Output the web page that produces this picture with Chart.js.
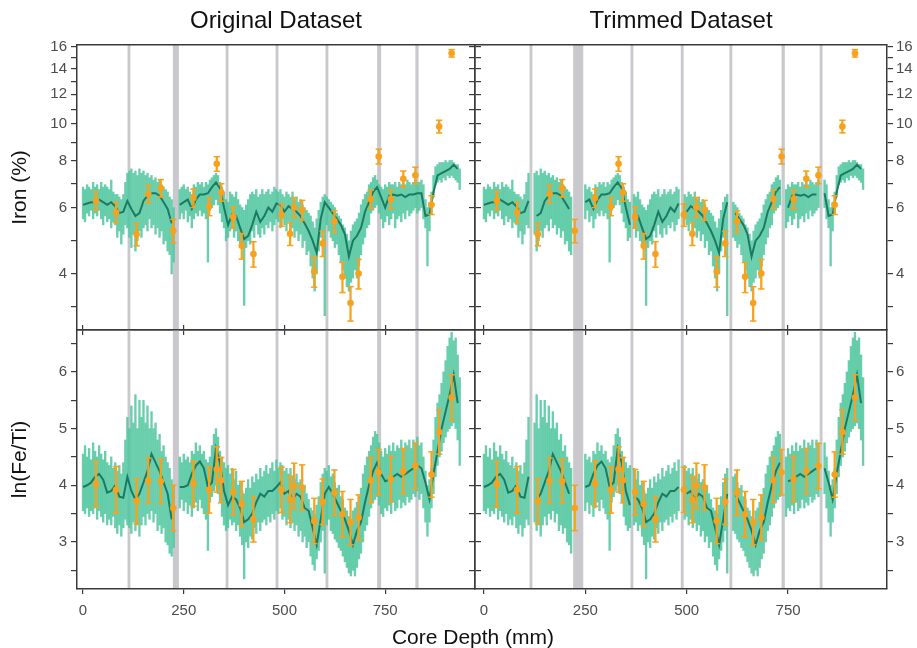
<!DOCTYPE html>
<html>
<head>
<meta charset="utf-8">
<script src="https://cdn.jsdelivr.net/npm/chart.js@4.4.0/dist/chart.umd.min.js"></script>
<style>
  html, body { margin: 0; padding: 0; background: #fff; }
  #wrap { position: relative; width: 917px; height: 648px; overflow: hidden; }
  #wrap canvas { position: absolute; left: 0; top: 0; }
  #xlabel { position: absolute; left: 323px; width: 300px; top: 625px; text-align: center;
            font: 21px 'Liberation Sans', Arial, sans-serif; color: #111; }
</style>
</head>
<body>
<div id="wrap">
  <canvas id="tl" width="917" height="648"></canvas>
  <canvas id="tr" width="917" height="648"></canvas>
  <canvas id="bl" width="917" height="648"></canvas>
  <canvas id="br" width="917" height="648"></canvas>
  <div id="xlabel">Core Depth (mm)</div>
</div>
<script>
// ticks
const depthTicks = [0, 250, 500, 750];
const ironTicks = [3.27, 4, 4.9, 6, 6.93, 8, 8.94, 10, 10.95, 12, 12.96, 14, 14.97, 16];
const ironLabels = [4, 6, 8, 10, 12, 14, 16];
const lnTicks = [2.5, 3, 3.5, 4, 4.5, 5, 5.5, 6, 6.5];
const lnLabels = [3, 4, 5, 6];

// grey depth intervals (mm)
const originalBands = [[110.5, 117.5], [223, 238], [354, 361], [478, 485], [602, 609], [730, 740], [825, 833]];
const trimmedBands = [[112.5, 119.5], [220, 245], [361.5, 368.5], [485.5, 492.5], [605.5, 612.5], [734, 742], [828, 835]];

// XRF scan, every 5 mm from 0 to 935 (low / high of the light band)
const bandDepth = [];
for (let d = 0; d <= 935; d += 5) bandDepth.push(d);

const ironLo = [
  5.6,5.5,5.8,5.7,5.9,5.6,5.8,5.7,5.9,5.6,
  5.4,5.7,5.5,5.6,5.3,5.5,5.4,5.0,5.2,4.8,
  5.1,5.4,5.3,5.0,4.7,5.1,4.6,4.9,5.2,5.0,
  5.3,5.4,5.2,5.6,5.3,5.4,5.1,5.3,5.0,5.2,
  4.8,4.9,4.6,4.5,4.0,4.3,null,null,5.6,5.8,
  5.6,5.9,5.5,5.7,5.3,5.6,5.8,5.7,5.9,5.7,
  5.8,5.6,4.3,5.9,6.0,6.1,6.3,6.1,5.8,5.5,
  5.3,4.9,5.0,5.2,5.3,5.0,5.2,4.9,4.8,4.7,
  3.3,4.7,4.9,4.8,5.2,5.0,5.4,5.1,5.0,5.3,
  5.1,5.4,5.3,5.5,5.2,5.4,5.6,5.5,5.3,5.6,
  5.4,5.2,5.5,5.1,5.3,5.0,5.2,4.9,5.1,4.7,
  4.9,4.5,4.6,4.2,3.9,3.6,4.0,4.6,5.0,5.2,
  3.1,5.4,5.2,5.0,4.9,4.7,4.8,4.5,4.3,4.1,
  3.9,3.7,3.6,3.8,3.9,4.1,3.9,4.2,4.5,4.8,
  5.0,5.3,5.4,5.8,5.9,6.0,6.1,5.8,5.6,5.3,
  5.5,5.7,5.4,5.6,5.8,5.3,5.6,5.7,5.5,5.8,
  5.6,5.9,5.7,5.8,5.9,6.0,5.8,5.9,6.0,5.6,
  5.3,4.2,5.2,5.8,6.4,6.9,7.0,7.1,7.0,7.2,
  7.1,7.3,7.2,7.3,7.2,7.1,7.0,6.7
];
const ironHi = [
  6.8,6.7,6.9,6.8,6.7,7.0,6.8,6.9,6.7,7.0,
  6.8,6.9,6.8,6.7,7.1,6.6,6.5,6.5,6.4,6.3,
  6.5,7.0,7.4,7.5,7.6,7.4,7.5,7.3,7.6,7.4,
  7.5,7.3,7.4,7.2,7.3,7.1,7.2,7.0,7.1,6.9,
  6.8,6.7,6.6,6.4,6.3,6.0,null,null,6.7,6.8,
  6.9,6.7,6.8,6.6,6.5,6.9,6.8,7.0,6.9,7.0,
  6.8,7.0,6.9,7.1,7.2,7.3,7.4,7.3,7.0,6.8,
  6.6,6.3,6.2,6.6,6.5,6.4,6.6,6.3,6.1,6.0,
  5.9,6.1,6.3,6.5,6.6,6.5,6.7,6.4,6.5,6.7,
  6.5,6.6,6.7,6.5,6.6,6.8,6.7,6.6,6.7,6.5,
  6.4,6.6,6.5,6.4,6.6,6.3,6.4,6.2,6.3,6.1,
  6.0,5.9,5.8,5.7,5.5,5.3,5.6,5.9,6.2,6.4,
  6.5,6.4,6.3,6.2,6.1,6.0,5.8,5.7,5.6,5.4,
  5.3,5.1,4.9,5.2,5.4,5.5,5.6,5.8,6.1,6.3,
  6.5,6.6,6.9,7.0,7.2,7.3,7.1,6.9,6.8,6.7,
  6.9,6.8,7.0,6.9,6.9,7.0,6.8,7.0,6.9,7.0,
  6.9,7.1,7.0,6.9,7.0,7.1,7.0,7.0,7.1,6.9,
  6.3,6.0,6.2,6.6,7.3,7.7,7.8,7.9,7.9,7.9,
  8.0,7.9,8.0,8.0,7.9,7.8,7.8,7.6
];
const lnLo = [
  3.55,3.5,3.6,3.45,3.55,3.5,3.6,3.4,3.55,3.45,
  3.35,3.5,3.3,3.4,3.3,3.45,3.25,3.15,3.3,3.1,
  3.25,3.4,3.3,3.25,3.15,3.35,3.2,3.3,3.1,3.3,
  3.45,3.3,3.5,3.4,3.55,3.35,3.5,3.2,3.3,3.15,
  3.25,3.0,2.95,2.8,2.75,2.9,null,null,3.6,3.75,
  3.55,3.7,3.5,3.65,3.45,3.6,3.7,3.55,3.75,3.6,
  3.5,3.4,2.85,3.7,3.8,3.9,4.0,3.85,3.7,3.45,
  3.3,3.2,3.25,3.4,3.3,3.35,3.2,3.3,3.1,2.95,
  2.35,3.0,2.9,3.1,3.05,3.25,3.15,3.35,3.2,3.35,
  3.4,3.3,3.45,3.35,3.5,3.4,3.55,3.5,3.6,3.4,
  3.45,3.3,3.4,3.25,3.35,3.2,3.3,3.1,3.2,3.0,
  3.1,2.9,3.0,2.75,2.6,2.5,2.7,2.85,3.0,3.2,
  2.45,3.3,3.4,3.2,3.15,3.05,3.0,2.9,2.85,2.75,
  2.65,2.55,2.45,2.4,2.5,2.4,2.55,2.7,2.8,3.0,
  3.2,3.3,3.45,3.6,3.7,3.75,3.8,3.65,3.5,3.45,
  3.6,3.55,3.65,3.5,3.7,3.55,3.6,3.75,3.6,3.7,
  3.65,3.8,3.7,3.75,3.85,3.8,3.9,3.75,3.85,3.6,
  3.35,3.1,3.35,3.6,3.85,4.15,4.35,4.5,4.6,4.75,
  4.85,4.95,5.0,5.05,5.1,5.0,4.8,4.35
];
const lnHi = [
  4.55,4.7,4.5,4.65,4.45,4.75,4.6,4.5,4.7,4.55,
  4.45,4.6,4.4,4.35,4.5,4.3,4.4,4.25,4.35,4.2,
  4.4,4.8,5.2,5.0,5.4,5.1,5.6,5.0,5.5,5.2,
  5.5,5.1,5.4,5.0,5.3,5.0,5.1,4.8,4.9,4.6,
  4.7,4.5,4.4,4.3,4.1,4.0,null,null,4.5,4.4,
  4.55,4.45,4.5,4.4,4.6,4.55,4.75,4.6,4.7,4.55,
  4.6,4.45,4.4,4.5,4.7,4.9,5.0,4.85,4.6,4.5,
  4.4,4.3,4.35,4.2,4.3,4.1,4.25,4.0,4.05,3.9,
  3.85,3.95,4.1,3.95,4.15,4.05,4.2,4.1,4.3,4.15,
  4.25,4.35,4.2,4.3,4.4,4.25,4.45,4.3,4.4,4.35,
  4.25,4.3,4.2,4.3,4.15,4.1,4.2,4.05,4.1,3.95,
  4.0,3.85,3.75,3.6,3.55,3.5,3.65,3.8,4.05,4.2,
  4.3,4.25,4.35,4.15,4.2,4.05,3.95,4.0,3.8,3.75,
  3.6,3.55,3.45,3.4,3.55,3.6,3.7,3.8,3.95,4.2,
  4.35,4.5,4.6,4.7,4.85,4.95,4.9,4.75,4.6,4.5,
  4.65,4.55,4.7,4.6,4.75,4.6,4.7,4.65,4.8,4.6,
  4.75,4.7,4.8,4.65,4.8,4.75,4.85,4.7,4.75,4.5,
  4.25,4.0,4.1,4.3,4.8,5.2,5.45,5.6,5.8,6.0,
  6.2,6.45,6.6,6.7,6.55,6.6,6.3,5.9
];

// smoothed curve, every 10 mm from 0 to 930
const smoothDepth = [];
for (let d = 0; d <= 930; d += 10) smoothDepth.push(d);

const ironSmooth = [
  6.1,6.15,6.2,6.2,6.3,6.2,6.1,6.2,6.05,5.8,
  5.85,6.25,5.95,5.7,5.8,6.25,6.45,6.55,6.55,6.45,
  6.2,5.95,5.45,null,6.1,6.2,6.3,5.95,6.3,6.5,
  6.5,6.55,6.8,7.0,6.75,6.0,5.4,5.75,5.7,5.3,
  4.95,5.05,5.4,5.85,5.5,5.7,6.0,5.85,6.15,6.1,
  5.85,6.05,5.95,5.85,5.7,5.45,5.2,4.9,4.55,5.6,
  6.2,6.0,5.8,5.6,5.4,5.1,4.45,4.9,5.05,5.3,
  5.85,6.2,6.6,6.8,6.4,6.0,6.45,6.5,6.45,6.5,
  6.4,6.5,6.5,6.55,6.55,5.7,5.75,6.6,7.3,7.4,
  7.5,7.6,7.8,7.6
];
const lnSmooth = [
  3.97,4.0,4.05,4.15,4.2,4.1,3.87,3.9,4.0,3.8,
  3.78,4.15,3.9,3.75,3.85,4.05,4.25,4.55,4.4,4.25,
  4.05,3.85,3.4,null,3.97,3.97,4.0,4.2,4.35,4.42,
  4.3,3.97,4.05,4.65,4.4,3.9,3.65,3.8,3.75,3.6,
  3.35,3.4,3.5,3.7,3.85,3.8,3.9,3.9,3.97,4.05,
  3.85,3.9,3.75,3.85,3.8,3.6,3.55,3.25,2.95,3.4,
  3.85,3.97,3.85,3.7,3.55,3.4,3.2,2.95,3.2,3.35,
  3.7,4.0,4.25,4.4,4.2,4.07,4.1,4.15,4.2,4.15,
  4.2,4.25,4.3,4.35,4.3,4.05,3.75,4.2,4.6,5.0,
  5.3,5.6,5.95,5.45
];

// discrete samples (orange) with error bars
const sampleDepth = [32, 82, 133, 162, 193, 224, 274, 313, 332, 343, 373, 394, 423, 493, 514, 524,
                     544, 574, 595, 624, 644, 664, 684, 714, 734, 764, 795, 825, 865, 884, 915];
const ironSample = [6.26, 5.83, 5.10, 6.52, 6.76, 5.21, 6.36, 6.04, 7.84, 6.59, 5.66, 4.75, 4.52, 5.74, 5.11, 6.01,
                    5.91, 4.06, 4.82, 5.52, 3.93, 3.35, 4.01, 6.32, 8.20, 6.32, 7.15, 7.31, 6.10, 9.85, 15.4];
const ironErr = [0.35, 0.36, 0.35, 0.35, 0.36, 0.37, 0.36, 0.33, 0.35, 0.35, 0.37, 0.37, 0.35, 0.39, 0.35, 0.37,
                 0.36, 0.37, 0.37, 0.36, 0.36, 0.35, 0.36, 0.35, 0.37, 0.36, 0.35, 0.37, 0.35, 0.38, 0.35];
const lnSample = [4.02, 3.92, 3.72, 4.08, 4.07, 3.60, 4.03, 3.92, 4.28, 4.09, 3.88, 3.67, 3.40, 3.92, 3.75, 3.99,
                  3.96, 3.37, 3.71, 3.87, 3.49, 3.35, 3.43, 4.09, 4.23, 4.11, 4.25, 4.34, 4.19, 4.94, 5.55];
const lnErr = [0.40, 0.41, 0.40, 0.40, 0.39, 0.40, 0.40, 0.41, 0.40, 0.40, 0.40, 0.40, 0.40, 0.40, 0.41, 0.40,
               0.40, 0.40, 0.40, 0.40, 0.40, 0.40, 0.40, 0.40, 0.40, 0.40, 0.40, 0.40, 0.40, 0.39, 0.40];

const W = 917, H = 648;
const AXIS = '#3a3a3a';
const TICK = '#4d4d4d';
const GREEN_LIGHT = 'rgba(78, 197, 157, 0.85)';
const GREEN_DARK = '#1b7a62';
const ORANGE = '#f6a21e';
const BAND = '#c9c9cd';

Chart.defaults.font.family = "'Liberation Sans', Arial, sans-serif";
Chart.defaults.animation = false;

function inBand(d, bands) {
  return bands.some(b => d >= b[0] - 1 && d <= b[1] + 1);
}

function axisX(p, pos, size, labels, tickMarks, title) {
  return {
    type: 'linear', position: pos, min: p.xMin, max: p.xMax, offset: false,
    afterBuildTicks: s => { s.ticks = depthTicks.map(v => ({value: v})); },
    afterFit: s => { s.height = size; },
    grid: {display: tickMarks, drawOnChartArea: false, drawTicks: true, tickLength: 5,
           color: AXIS, lineWidth: 1.2, offset: false},
    border: {display: true, color: AXIS, width: 1.5, z: 1},
    ticks: {display: labels, autoSkip: false, maxRotation: 0, padding: 8, color: TICK, font: {size: 15}},
    title: title ? {display: true, text: title, color: '#111', font: {size: 24},
                    padding: {top: 7, bottom: 0}} : {display: false}
  };
}

function axisY(p, pos, size, labels, title) {
  return {
    type: p.yType, position: pos, min: p.yMin, max: p.yMax,
    afterBuildTicks: s => { s.ticks = p.yTicks.map(v => ({value: v})); },
    afterFit: s => { s.width = size; },
    grid: {drawOnChartArea: false, drawTicks: true, tickLength: 6, color: AXIS, lineWidth: 1.2},
    border: {display: true, color: AXIS, width: 1.5, z: 1},
    ticks: {display: labels, autoSkip: false, padding: pos === 'left' ? 4 : 3, color: TICK, font: {size: 15},
            callback: v => p.yLabels.includes(v) ? String(v) : ''},
    title: title ? {display: true, text: title, color: '#111', font: {size: 21},
                    padding: {top: 8, bottom: 0}} : {display: false}
  };
}

function buildPanel(p) {
  const bars = [];
  bandDepth.forEach((d, i) => {
    if (p.lo[i] === null) return;
    if (p.trim && inBand(d, p.bands)) return;
    bars.push({x: d, y: [p.lo[i], p.hi[i]]});
  });

  let line = smoothDepth.map((d, i) => ({x: d, y: p.smooth[i]}));
  if (p.trim) {
    line = line.filter(pt => !inBand(pt.x, p.bands));
    p.bands.forEach(b => line.push({x: (b[0] + b[1]) / 2, y: null}));
    line.sort((a, b) => a.x - b.x);
  }

  const pts = sampleDepth.map((d, i) => ({x: d, y: p.sample[i]}));
  const errs = sampleDepth.map((d, i) => ({x: d, y: [p.sample[i] - p.err[i], p.sample[i] + p.err[i]]}));
  const caps = [];
  sampleDepth.forEach((d, i) => {
    caps.push({x: d, y: p.sample[i] - p.err[i]});
    caps.push({x: d, y: p.sample[i] + p.err[i]});
  });

  // grey depth intervals behind the data
  const bandPlugin = {
    id: 'bands',
    beforeDatasetsDraw(chart) {
      const {ctx, chartArea, scales: {x}} = chart;
      ctx.save();
      ctx.fillStyle = BAND;
      p.bands.forEach(b => {
        const x0 = x.getPixelForValue(b[0]);
        const x1 = x.getPixelForValue(b[1]);
        ctx.fillRect(x0, chartArea.top, x1 - x0, chartArea.bottom - chartArea.top);
      });
      ctx.restore();
    }
  };

  const box = p.box;
  new Chart(document.getElementById(p.id), {
    type: 'scatter',
    data: {
      datasets: [
        {type: 'scatter', data: pts, order: 0, pointRadius: 3.3, pointHoverRadius: 3.3,
         pointBackgroundColor: ORANGE, pointBorderWidth: 0},
        {type: 'scatter', data: caps, order: 1, pointStyle: 'line', pointRadius: 3.2,
         pointBorderColor: ORANGE, borderColor: ORANGE, pointBorderWidth: 1.5},
        {type: 'bar', data: errs, order: 2, grouped: false, barThickness: 1.6,
         backgroundColor: ORANGE, borderWidth: 0},
        {type: 'line', data: line, order: 3, borderColor: GREEN_DARK, borderWidth: 2,
         pointRadius: 0, spanGaps: false, tension: 0},
        {type: 'bar', data: bars, order: 4, grouped: false, barThickness: 1.7,
         backgroundColor: GREEN_LIGHT, borderWidth: 0}
      ]
    },
    options: {
      responsive: false,
      devicePixelRatio: 1,
      layout: {padding: 0, autoPadding: false},
      plugins: {legend: {display: false}, tooltip: {enabled: false}},
      scales: {
        x: axisX(p, 'bottom', H - box.bottom, p.bottomLabels, true, null),
        x2: axisX(p, 'top', box.top, false, p.topTicks, p.topTitle),
        y: axisY(p, 'left', box.left, p.leftLabels, p.leftTitle),
        y2: axisY(p, 'right', W - box.right, p.rightLabels, null)
      }
    },
    plugins: [bandPlugin]
  });
}

const ironCfg = {yType: 'logarithmic', yMin: 2.84, yMax: 16.2, yTicks: ironTicks, yLabels: ironLabels,
                 lo: ironLo, hi: ironHi, smooth: ironSmooth, sample: ironSample, err: ironErr};
const lnCfg = {yType: 'linear', yMin: 2.17, yMax: 6.74, yTicks: lnTicks, yLabels: lnLabels,
               lo: lnLo, hi: lnHi, smooth: lnSmooth, sample: lnSample, err: lnErr};
const leftCol = {xMin: -15, xMax: 973, bands: originalBands, trim: false, leftLabels: true, rightLabels: false};
const rightCol = {xMin: -22, xMax: 994, bands: trimmedBands, trim: true, leftLabels: false, rightLabels: true};

buildPanel(Object.assign({id: 'tl', box: {left: 77, right: 475, top: 45, bottom: 330},
  bottomLabels: false, topTicks: false, topTitle: 'Original Dataset', leftTitle: 'Iron (%)'}, ironCfg, leftCol));
buildPanel(Object.assign({id: 'tr', box: {left: 475, right: 887, top: 45, bottom: 330},
  bottomLabels: false, topTicks: false, topTitle: 'Trimmed Dataset', leftTitle: null}, ironCfg, rightCol));
buildPanel(Object.assign({id: 'bl', box: {left: 77, right: 475, top: 330, bottom: 589},
  bottomLabels: true, topTicks: true, topTitle: null, leftTitle: 'ln(Fe/Ti)'}, lnCfg, leftCol));
buildPanel(Object.assign({id: 'br', box: {left: 475, right: 887, top: 330, bottom: 589},
  bottomLabels: true, topTicks: true, topTitle: null, leftTitle: null}, lnCfg, rightCol));
</script>
</body>
</html>
